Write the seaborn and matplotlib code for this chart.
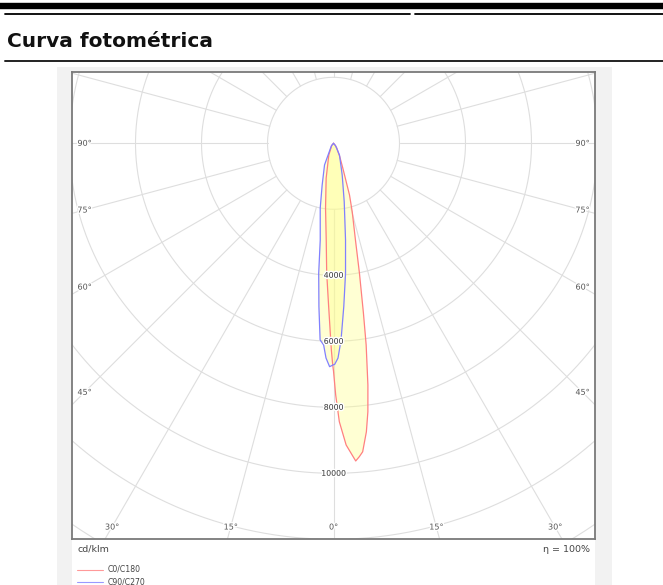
import numpy as np
import pandas as pd
import matplotlib.pyplot as plt
import matplotlib.patheffects as pe
from matplotlib.patches import Rectangle
from matplotlib.lines import Line2D
import seaborn as sns

# luminous intensity (cd/klm), per half C-plane
c0_gamma = [0, 0.5, 1.2, 2.4, 4.0, 4.7, 5.4, 6.5, 7.3, 8.1, 9.2, 10, 11.3, 12.8, 15.3, 17.2, 20.6, 25, 35, 45, 90]
c0_cd = [6900, 7630, 8440, 9150, 9650, 9530, 9390, 8800, 8200, 7400, 6190, 5220, 4010, 3000, 2150, 1640, 800, 450, 170, 50, 0]
c180_gamma = [0, 0.2, 0.6, 1.7, 3.0, 4.3, 7.0, 11.9, 21.9, 40, 90]
c180_cd = [6900, 6720, 6260, 4950, 3940, 2940, 1980, 1080, 380, 80, 0]
c90_gamma = [0, 0.3, 1.2, 1.9, 2.2, 3.6, 5.3, 7.1, 10.4, 15.3, 27, 40, 90]
c90_cd = [6710, 6700, 6510, 6120, 5960, 4960, 3950, 2950, 1800, 1000, 400, 100, 0]
c270_gamma = [0, 1.0, 2.0, 2.8, 3.9, 5.1, 6.5, 7.8, 11.6, 15.2, 22.5, 40, 90]
c270_cd = [6710, 6770, 6510, 6120, 5970, 4970, 3960, 2960, 2000, 1310, 710, 100, 0]

ring_values = [2000, 4000, 6000, 8000, 10000, 12000, 14000, 16000]
ring_labels = [4000, 6000, 8000, 10000]
side_angles = [90, 75, 60, 45]
bottom_angles = [30, 15, 0]
series_names = ['C0/C180', 'C90/C270']
series_colors = ['#ff8080', '#8080ff']

W, H = 663, 585
sns.set_style('white')
plt.rcParams['font.family'] = ['DejaVu Sans']


def fx(px):
    return px / W


def fy(py):
    return 1 - py / H


def curve(gam_right, cd_right, gam_left, cd_left):
    # left half from 90 deg down to nadir, then right half back up
    g = np.concatenate([-np.array(gam_left[::-1], float), np.array(gam_right, float)])
    r = np.concatenate([np.array(cd_left[::-1], float), np.array(cd_right, float)])
    t = np.radians(g)
    return pd.DataFrame({'x': r * np.sin(t), 'y': -r * np.cos(t), 'order': np.arange(len(g))})


fig = plt.figure(figsize=(W / 100, H / 100), dpi=100)

# page decoration
fig.add_artist(Line2D([0, 1], [fy(5.5), fy(5.5)], color='black', lw=4.6))
fig.add_artist(Line2D([fx(5), fx(410)], [fy(14), fy(14)], color='black', lw=1.3))
fig.add_artist(Line2D([fx(415), 1], [fy(14), fy(14)], color='black', lw=1.3))
fig.text(fx(7), fy(47), 'Curva fotométrica', fontsize=14.5, fontweight='bold', color='#111111', va='baseline')
fig.add_artist(Line2D([fx(5), 1], [fy(60.5), fy(60.5)], color='#222222', lw=1.4))
bg = Rectangle((fx(57), 0), fx(612) - fx(57), fy(67), color='#f2f2f2', lw=0, zorder=-10)
inner = Rectangle((fx(72), 0), fx(595) - fx(72), fy(72), color='white', lw=0, zorder=-9)
fig.add_artist(bg)
fig.add_artist(inner)

ax = fig.add_axes([fx(72), fy(539), fx(595) - fx(72), fy(72) - fy(539)])
ax.set_zorder(1)
s = 2000 / 66.0  # cd per pixel
cx, cy = 333.5, 143.3
ax.set_xlim((72 - cx) * s, (595 - cx) * s)
ax.set_ylim(-(539 - cy) * s, (cy - 72) * s)
ax.set_xticks([])
ax.set_yticks([])
for sp in ax.spines.values():
    sp.set_color('#7a7a7a')
    sp.set_linewidth(1.3)

grid_c = '#dedede'
th = np.linspace(0, 2 * np.pi, 721)
for r in ring_values:
    ax.plot(r * np.cos(th), r * np.sin(th), color=grid_c, lw=0.8, zorder=1)
for a in range(0, 360, 15):
    t = np.radians(a)
    ax.plot([ring_values[0] * np.sin(t), 30000 * np.sin(t)],
            [-ring_values[0] * np.cos(t), -30000 * np.cos(t)], color=grid_c, lw=0.8, zorder=1)

curves = [curve(c0_gamma, c0_cd, c180_gamma, c180_cd), curve(c90_gamma, c90_cd, c270_gamma, c270_cd)]
for df in curves:
    ax.fill(df['x'], df['y'], color='#ffff8c', alpha=0.38, lw=0, zorder=2)
for df, col in zip(curves, series_colors):
    sns.lineplot(data=df, x='x', y='y', sort=False, estimator=None, color=col, lw=0.9, ax=ax, zorder=3)
ax.set_xlabel('')
ax.set_ylabel('')

halo = [pe.withStroke(linewidth=2, foreground='white')]
for r in ring_labels:
    ax.text(0, -r, str(r), fontsize=5.6, color='#333333', ha='center', va='center',
            path_effects=halo, zorder=5)

x0, x1 = ax.get_xlim()
y0, y1 = ax.get_ylim()
side_in = 12.5 * s
bot_in = 12 * s
for a in side_angles:
    xl = -x0 - side_in
    yl = -xl / np.tan(np.radians(a)) if a != 90 else 0
    for sign in (-1, 1):
        ax.text(sign * xl, yl, f'{a}°', fontsize=5.8, color='#555555', ha='center', va='center',
                path_effects=halo, zorder=5)
for a in bottom_angles:
    yl = y0 + bot_in
    xl = -yl * np.tan(np.radians(a))
    for sign in ((-1, 1) if a else (1,)):
        ax.text(sign * xl, yl, f'{a}°', fontsize=5.8, color='#555555', ha='center', va='center',
                path_effects=halo, zorder=5)

# footer texts and legend
fig.text(fx(77), fy(549), 'cd/klm', fontsize=6.8, color='#444444', va='center')
fig.text(fx(590), fy(549), 'η = 100%', fontsize=6.8, color='#444444', va='center', ha='right')
for i, (name, col) in enumerate(zip(series_names, series_colors)):
    yy = fy(569.5 + 12.5 * i)
    fig.add_artist(Line2D([fx(77), fx(103)], [yy, yy], color=col, lw=0.8, alpha=0.8))
    fig.text(fx(108), yy, name, fontsize=5.6, color='#444444', va='center')

fig.savefig('out.png', dpi=100)
